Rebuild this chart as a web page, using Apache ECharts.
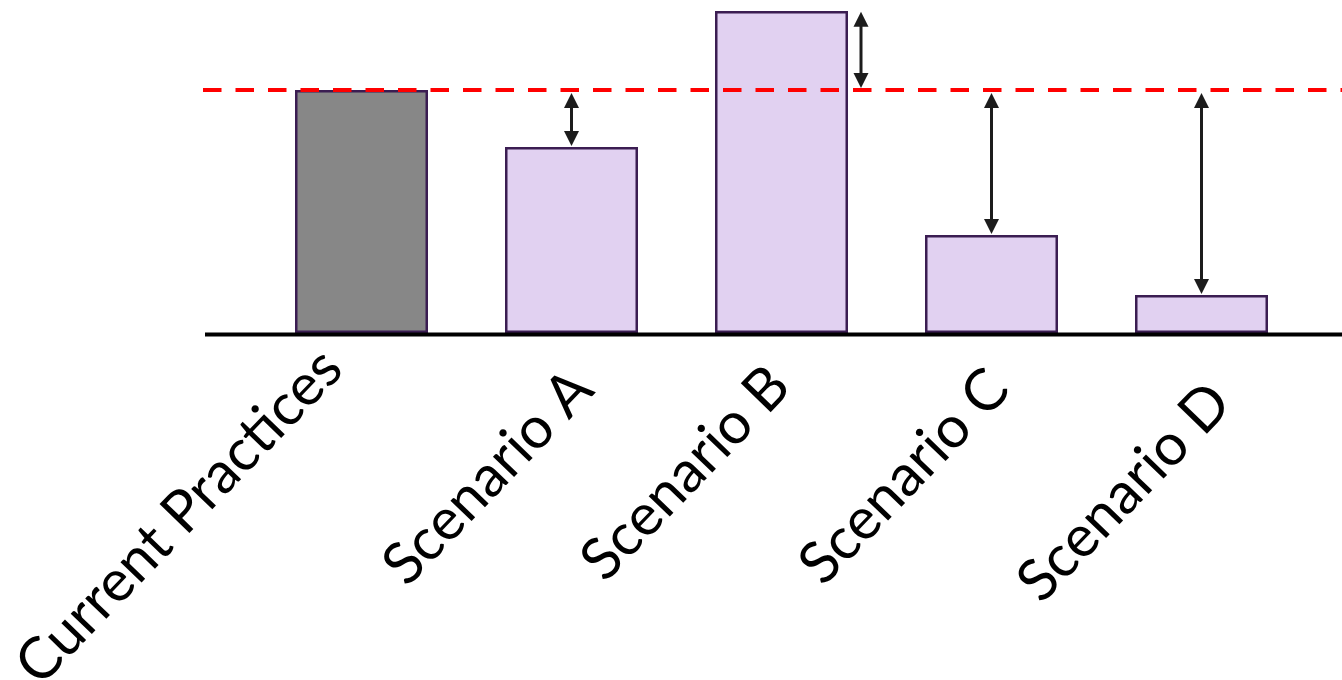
<!DOCTYPE html>
<html>
<head>
<meta charset="utf-8">
<title>Scenario comparison</title>
<script src="https://cdn.jsdelivr.net/npm/echarts@6/dist/echarts.min.js"></script>
<style>
  html, body { margin: 0; padding: 0; background: #ffffff; }
  #chart { width: 1342px; height: 680px; }
</style>
</head>
<body>
<div id="chart"></div>
<script>
// Categories and bar heights (relative units, current practices = 100)
const categories = ['Current Practices', 'Scenario A', 'Scenario B', 'Scenario C', 'Scenario D'];
const values = [100, 76.5, 132.5, 40.3, 15.6];
// Reference level shown by the dashed line
const referenceValue = 100;
// Which bars get a gap arrow to the reference line
const arrowCategories = ['Scenario A', 'Scenario B', 'Scenario C', 'Scenario D'];

const barColors = ['#878787', '#e1d1f1', '#e1d1f1', '#e1d1f1', '#e1d1f1'];
const BAR_WIDTH = 133;
const ARROW_COLOR = '#1c1c1c';
const LABEL_FONT = { fontFamily: 'Lato', fontSize: 58, color: '#000000' };
// Per-label padding [top, right, bottom, left] used to fine-tune the slanted labels
const labelPadding = [
  [0, 13.5, 55.8, 0],
  [31.6, 0.4, 0, 0],
  [8.4, 7.1, 0, 0],
  [25.6, 2.9, 0, 0],
  [61.6, 4.6, 0, 0]
];

const chart = echarts.init(document.getElementById('chart'), null, { renderer: 'canvas' });

// Double-headed arrow between the reference level and a bar top
function renderArrow(params, api) {
  const idx = api.value(0);
  const ref = api.value(1);
  const val = api.value(2);
  const pRef = api.coord([idx, ref]);
  const pVal = api.coord([idx, val]);
  let x = pRef[0];
  let yTop, yBot;
  if (val > ref) {
    // bar rises above the line: arrow sits beside the bar
    x = x + BAR_WIDTH / 2 + 13;
    yTop = pVal[1] + 0.7;
    yBot = pRef[1] - 2;
  } else {
    yTop = pRef[1] + 3;
    yBot = pVal[1] - 1;
  }
  const hw = 7.5, hl = 15;
  return {
    type: 'group',
    children: [
      {
        type: 'line',
        shape: { x1: x, y1: yTop + hl - 2, x2: x, y2: yBot - hl + 2 },
        style: { stroke: ARROW_COLOR, lineWidth: 3 }
      },
      {
        type: 'polygon',
        shape: { points: [[x, yTop], [x - hw, yTop + hl], [x + hw, yTop + hl]] },
        style: { fill: ARROW_COLOR }
      },
      {
        type: 'polygon',
        shape: { points: [[x, yBot], [x - hw, yBot - hl], [x + hw, yBot - hl]] },
        style: { fill: ARROW_COLOR }
      }
    ]
  };
}

const arrowData = arrowCategories.map(function (c) {
  const i = categories.indexOf(c);
  return [i, referenceValue, values[i]];
});

// One rich style per category label
const richLabels = {};
labelPadding.forEach(function (p, i) {
  richLabels['l' + i] = Object.assign({ padding: p }, LABEL_FONT);
});

chart.setOption({
  animation: false,
  backgroundColor: '#ffffff',
  grid: {
    left: 256.5, right: 35.5, top: 0, bottom: 347,
    containLabel: false,
    outerBoundsMode: 'none'
  },
  xAxis: {
    type: 'category',
    data: categories,
    boundaryGap: true,
    axisLine: { show: false },
    axisTick: { show: false },
    splitLine: { show: false },
    axisLabel: Object.assign({
      interval: 0,
      rotate: 46,
      margin: 35,
      formatter: function (value, index) {
        return '{l' + index + '|' + value + '}';
      },
      rich: richLabels
    }, LABEL_FONT)
  },
  yAxis: {
    type: 'value',
    min: 0,
    max: 137,
    show: false,
    splitLine: { show: false }
  },
  series: [
    {
      type: 'bar',
      data: values.map(function (v, i) {
        return { value: v, itemStyle: { color: barColors[i] } };
      }),
      barWidth: BAR_WIDTH,
      itemStyle: { borderColor: '#3b1d52', borderWidth: 2.5 },
      z: 2
    },
    {
      type: 'custom',
      renderItem: renderArrow,
      encode: { x: 0, y: [1, 2] },
      data: arrowData,
      z: 5
    }
  ]
});

// Baseline and dashed reference line, placed through the value scale
function drawGuides() {
  const yZero = chart.convertToPixel({ yAxisIndex: 0 }, 0);
  const yRef = chart.convertToPixel({ yAxisIndex: 0 }, referenceValue);
  chart.setOption({
    graphic: [
      {
        type: 'line',
        z: 10,
        shape: { x1: 203, y1: yRef, x2: 1342, y2: yRef },
        style: { stroke: '#ff0000', lineWidth: 4, lineDash: [18.5, 14] }
      },
      {
        type: 'line',
        z: 10,
        shape: { x1: 205, y1: yZero + 1.5, x2: 1342, y2: yZero + 1.5 },
        style: { stroke: '#000000', lineWidth: 4 }
      }
    ]
  });
}
drawGuides();
</script>
</body>
</html>
